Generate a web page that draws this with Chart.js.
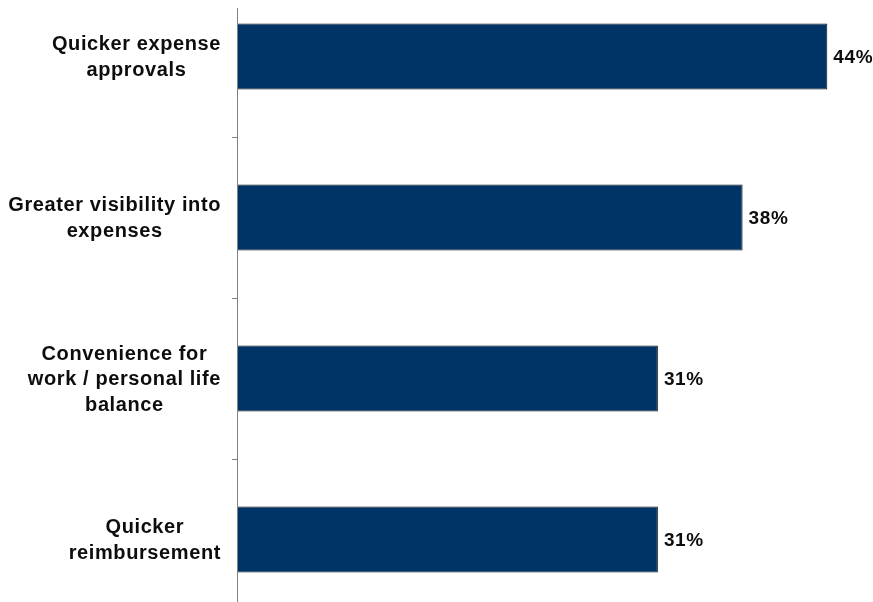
<!DOCTYPE html>
<html>
<head>
<meta charset="utf-8">
<script src="https://cdn.jsdelivr.net/npm/chart.js@4"></script>
<style>
  html, body { margin: 0; padding: 0; background: #fff; overflow: hidden; }
  #wrap { position: absolute; left: 0; top: -24px; width: 873px; height: 644px; }
</style>
</head>
<body>
<div id="wrap"><canvas id="idBarChart"></canvas></div>
<script>
    // categories (multi-line labels) and values in percent
    const categories = [
        ['Quicker expense', 'approvals'],
        ['Greater visibility into', 'expenses'],
        ['Convenience for', 'work / personal life', 'balance'],
        ['Quicker', 'reimbursement']
    ];
    const values = [43.9, 37.6, 31.3, 31.3];
    const xMax = 47;

    const FONT = 'bold 20px Arial, "Liberation Sans", sans-serif';
    const SPACING = '0.6px';

    // vertical axis line, starts a bit below the top of the plot
    var axisLinePlugin = {
        id: 'axisLine',
        afterDatasetsDraw: function (chart) {
            var ctx = chart.ctx;
            var area = chart.chartArea;
            var x = Math.round(area.left) + 0.5;
            ctx.save();
            ctx.strokeStyle = '#808080';
            ctx.lineWidth = 1;
            ctx.beginPath();
            ctx.moveTo(x, area.top + 32);
            ctx.lineTo(x, area.bottom);
            ctx.stroke();
            ctx.restore();
        }
    };

    // category labels: block right aligned next to the axis, lines centred in the block
    var categoryLabels = {
        id: 'categoryLabels',
        afterDraw: function (chart) {
            var ctx = chart.ctx;
            var yScale = chart.scales.y;
            var right = chart.chartArea.left - 16;
            var lineH = 25.5;
            ctx.save();
            ctx.font = FONT;
            ctx.letterSpacing = SPACING;
            ctx.fillStyle = '#0d0d0d';
            ctx.textAlign = 'center';
            ctx.textBaseline = 'middle';
            categories.forEach(function (lines, i) {
                var w = Math.max.apply(null, lines.map(function (l) { return ctx.measureText(l).width; }));
                var cx = right - w / 2;
                var cy = yScale.getPixelForValue(i) + 1;
                var y0 = cy - (lines.length - 1) * lineH / 2;
                lines.forEach(function (l, j) {
                    ctx.fillText(l, cx, y0 + j * lineH);
                });
            });
            ctx.restore();
        }
    };

    // value labels at the end of each bar
    var valueLabels = {
        id: 'valueLabels',
        afterDatasetsDraw: function (chart) {
            var ctx = chart.ctx;
            var meta = chart.getDatasetMeta(0);
            ctx.save();
            ctx.font = 'bold 19px Arial, "Liberation Sans", sans-serif';
            ctx.letterSpacing = SPACING;
            ctx.fillStyle = '#0d0d0d';
            ctx.textAlign = 'left';
            ctx.textBaseline = 'middle';
            meta.data.forEach(function (bar, i) {
                ctx.fillText(Math.round(values[i]) + '%', bar.x + 6, bar.y + 1);
            });
            ctx.restore();
        }
    };

    var data_bar = {
        labels: categories,
        datasets: [{
            data: values,
            backgroundColor: '#003366',
            borderColor: '#111111',
            borderWidth: 1,
            borderSkipped: false,
            categoryPercentage: 1.0,
            barPercentage: 0.41
        }]
    };

    var ctx = document.getElementById('idBarChart').getContext('2d');
    var idBarChart = new Chart(ctx, {
        type: 'bar',
        data: data_bar,
        plugins: [axisLinePlugin, valueLabels, categoryLabels],
        options: {
            indexAxis: 'y',
            responsive: true,
            maintainAspectRatio: false,
            animation: false,
            layout: { padding: { left: 0, right: 4, top: 0, bottom: 0 } },
            plugins: {
                legend: { display: false },
                tooltip: { enabled: false }
            },
            scales: {
                x: {
                    display: false,
                    min: 0,
                    max: xMax
                },
                y: {
                    offset: true,
                    border: { display: false },
                    grid: {
                        offset: true,
                        drawOnChartArea: false,
                        drawTicks: true,
                        tickLength: 5,
                        color: '#808080'
                    },
                    ticks: { display: false },
                    afterFit: function (scale) {
                        scale.width = 237;
                        scale.paddingTop = 0;
                        scale.paddingBottom = 0;
                    }
                }
            }
        }
    });
</script>
</body>
</html>
